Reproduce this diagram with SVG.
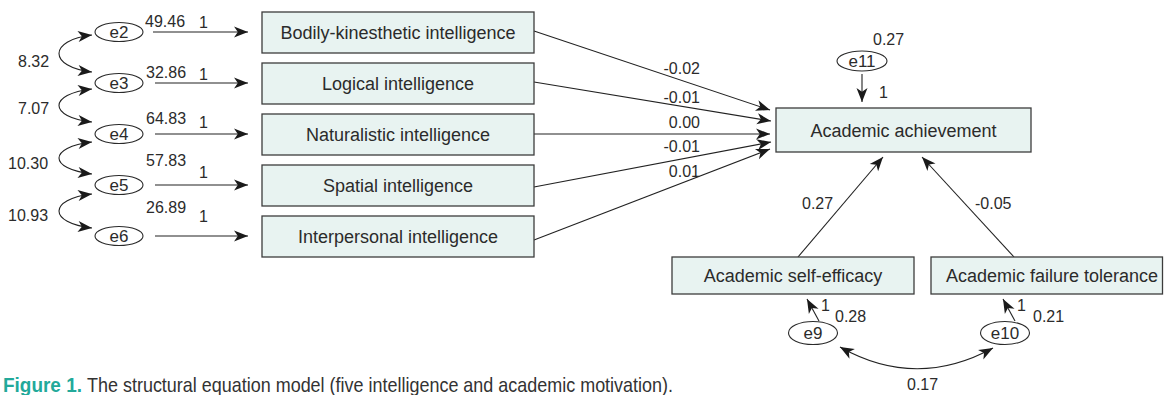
<svg xmlns="http://www.w3.org/2000/svg" width="1164" height="395" viewBox="0 0 1164 395">
  <defs>
    <marker id="arr" markerUnits="userSpaceOnUse" markerWidth="17" markerHeight="13" viewBox="-1 -6.5 17 13" refX="14" refY="0" orient="auto-start-reverse">
      <path d="M0,-5.5 L14,0 L0,5.5 L3.8,0 z" fill="#1a1a1a"/>
    </marker>
    <style>
      .box{fill:#e8f3f1;stroke:#3c3c3c;stroke-width:1.3}
      .err{fill:#fff;stroke:#2a2a2a;stroke-width:1.1}
      .lbl{font-family:"Liberation Sans",Arial,sans-serif;font-size:18px;fill:#2b2b2b;text-anchor:middle}
      .elb{font-family:"Liberation Sans",Arial,sans-serif;font-size:17px;fill:#2b2b2b;text-anchor:middle}
      .num{font-family:"Liberation Sans",Arial,sans-serif;font-size:16px;fill:#2b2b2b}
      .end{text-anchor:end}
      .edge{fill:none;stroke:#222;stroke-width:1.1;marker-end:url(#arr)}
      .cov{fill:none;stroke:#222;stroke-width:1.1;marker-start:url(#arr);marker-end:url(#arr)}
      .cap{font-family:"Liberation Sans",Arial,sans-serif;font-size:21px}
    </style>
  </defs>

  <!-- connectors -->
  <g id="connectors">
    <!-- error terms to intelligence boxes -->
    <line class="edge" x1="153" y1="32" x2="248" y2="32"/>
    <line class="edge" x1="155" y1="83" x2="248" y2="83"/>
    <line class="edge" x1="155" y1="134" x2="248" y2="134"/>
    <line class="edge" x1="155" y1="185" x2="248" y2="185"/>
    <line class="edge" x1="155" y1="236" x2="248" y2="236"/>
    <!-- covariances between adjacent error terms -->
    <path class="cov" d="M92,35 C48,40 48,67 92,72"/>
    <path class="cov" d="M92,89 C48,94 48,117 92,122"/>
    <path class="cov" d="M92,142 C48,147 48,169 92,174"/>
    <path class="cov" d="M92,194 C48,199 48,223 92,228"/>
    <!-- intelligences to academic achievement -->
    <line class="edge" x1="534" y1="31" x2="770" y2="110"/>
    <line class="edge" x1="534" y1="82" x2="771" y2="121"/>
    <line class="edge" x1="534" y1="134" x2="770" y2="134"/>
    <line class="edge" x1="534" y1="187" x2="771" y2="142"/>
    <line class="edge" x1="534" y1="240" x2="770" y2="149"/>
    <!-- motivation to achievement -->
    <line class="edge" x1="798" y1="257" x2="883" y2="157"/>
    <line class="edge" x1="1014" y1="257" x2="922" y2="157"/>
    <!-- residual paths -->
    <line class="edge" x1="862" y1="74" x2="862" y2="102"/>
    <line class="edge" x1="819" y1="321" x2="807" y2="299"/>
    <line class="edge" x1="1015" y1="321" x2="1003" y2="299"/>
    <path class="cov" d="M840,347 Q916,390 993,348"/>

    <!-- path coefficients -->
    <text class="num" x="145" y="27">49.46</text>
    <text class="num" x="146" y="78">32.86</text>
    <text class="num" x="146" y="124">64.83</text>
    <text class="num" x="146" y="166">57.83</text>
    <text class="num" x="146" y="213">26.89</text>
    <text class="num" x="199" y="28">1</text>
    <text class="num" x="199" y="80">1</text>
    <text class="num" x="199" y="128">1</text>
    <text class="num" x="199" y="178">1</text>
    <text class="num" x="199" y="222">1</text>
    <text class="num" x="18" y="67">8.32</text>
    <text class="num" x="18" y="114">7.07</text>
    <text class="num" x="8" y="169">10.30</text>
    <text class="num" x="8" y="221">10.93</text>
    <text class="num end" x="700" y="74">-0.02</text>
    <text class="num end" x="700" y="103">-0.01</text>
    <text class="num end" x="700" y="128">0.00</text>
    <text class="num end" x="700" y="152">-0.01</text>
    <text class="num end" x="700" y="177">0.01</text>
    <text class="num" x="873" y="45">0.27</text>
    <text class="num" x="879" y="98">1</text>
    <text class="num" x="802" y="209">0.27</text>
    <text class="num" x="975" y="209">-0.05</text>
    <text class="num" x="821" y="311">1</text>
    <text class="num" x="835" y="322">0.28</text>
    <text class="num" x="1017" y="311">1</text>
    <text class="num" x="1033" y="322">0.21</text>
    <text class="num" x="907" y="390">0.17</text>
  </g>

  <!-- error terms -->
  <g id="e2"><ellipse class="err" cx="119" cy="32" rx="24" ry="9.5"/><text class="elb" x="119" y="38">e2</text></g>
  <g id="e3"><ellipse class="err" cx="119" cy="83" rx="24" ry="9.5"/><text class="elb" x="119" y="89">e3</text></g>
  <g id="e4"><ellipse class="err" cx="119" cy="134" rx="24" ry="9.5"/><text class="elb" x="119" y="140">e4</text></g>
  <g id="e5"><ellipse class="err" cx="119" cy="185" rx="24" ry="9.5"/><text class="elb" x="119" y="191">e5</text></g>
  <g id="e6"><ellipse class="err" cx="119" cy="236" rx="24" ry="9.5"/><text class="elb" x="119" y="242">e6</text></g>
  <g id="e11"><ellipse class="err" cx="862" cy="61" rx="25" ry="10"/><text class="elb" x="862" y="67">e11</text></g>
  <g id="e9"><ellipse class="err" cx="813" cy="333" rx="24.5" ry="11.5"/><text class="elb" x="813" y="339">e9</text></g>
  <g id="e10"><ellipse class="err" cx="1005" cy="333" rx="24.5" ry="11.5"/><text class="elb" x="1005" y="339">e10</text></g>

  <!-- observed variables -->
  <g id="bodily"><rect class="box" x="262" y="12" width="272" height="41"/><text class="lbl" x="398" y="39">Bodily-kinesthetic intelligence</text></g>
  <g id="logical"><rect class="box" x="262" y="63" width="272" height="41"/><text class="lbl" x="398" y="90">Logical intelligence</text></g>
  <g id="naturalistic"><rect class="box" x="262" y="114" width="272" height="41"/><text class="lbl" x="398" y="141">Naturalistic intelligence</text></g>
  <g id="spatial"><rect class="box" x="262" y="165" width="272" height="41"/><text class="lbl" x="398" y="192">Spatial intelligence</text></g>
  <g id="interpersonal"><rect class="box" x="262" y="216" width="272" height="41"/><text class="lbl" x="398" y="243">Interpersonal intelligence</text></g>
  <g id="achievement"><rect class="box" x="776" y="108" width="255" height="44"/><text class="lbl" x="903.5" y="137">Academic achievement</text></g>
  <g id="selfefficacy"><rect class="box" x="672" y="257" width="242" height="37"/><text class="lbl" x="793" y="282">Academic self-efficacy</text></g>
  <g id="failuretolerance"><rect class="box" x="931" y="257" width="231.5" height="37"/><text class="lbl" x="1052" y="282">Academic failure tolerance</text></g>

  <!-- caption -->
  <text class="cap" x="3" y="392" font-weight="bold" fill="#22a99a" textLength="79" lengthAdjust="spacingAndGlyphs">Figure 1.</text>
  <text class="cap" x="87" y="392" fill="#333" textLength="586" lengthAdjust="spacingAndGlyphs">The structural equation model (five intelligence and academic motivation).</text>
</svg>
